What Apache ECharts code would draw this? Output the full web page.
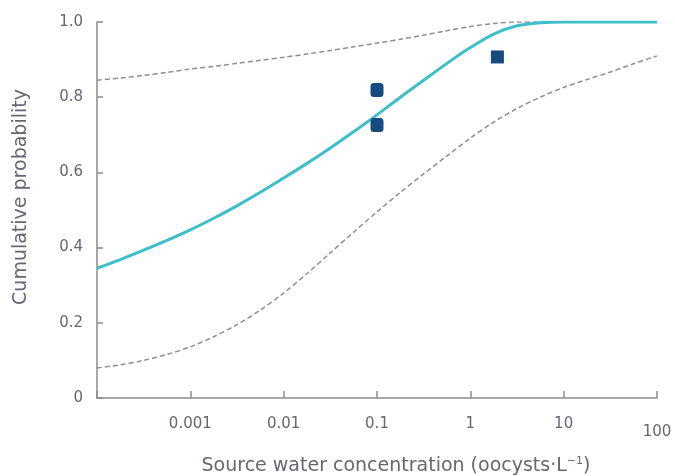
<!DOCTYPE html>
<html>
<head>
<meta charset="utf-8">
<script src="https://cdn.jsdelivr.net/npm/echarts@6/dist/echarts.min.js"></script>
<style>html,body{margin:0;padding:0;background:#fff;}#c{width:675px;height:476px;}</style>
</head>
<body>
<div id="c"></div>
<script>
// Sample positions along x (oocysts per L), quarter-decade steps
const curveX = [0.0001, 0.000178, 0.000316, 0.000562, 0.001, 0.00178, 0.00316, 0.00562, 0.01, 0.0178, 0.0316, 0.0562, 0.1, 0.178, 0.316, 0.562, 1, 1.78, 3.16, 5.62, 10, 17.8, 31.6, 56.2, 100];
// Fitted cumulative curve (teal)
const fitY = [0.345, 0.368, 0.393, 0.419, 0.447, 0.478, 0.511, 0.547, 0.585, 0.624, 0.665, 0.708, 0.753, 0.80, 0.845, 0.89, 0.932, 0.968, 0.99, 0.998, 1.0, 1.0, 1.0, 1.0, 1.0];
// Upper confidence bound (dashed)
const upperY = [0.845, 0.851, 0.858, 0.866, 0.875, 0.882, 0.89, 0.898, 0.906, 0.915, 0.924, 0.934, 0.944, 0.954, 0.965, 0.977, 0.988, 0.996, 1.0, 1.0, 1.0, 1.0, 1.0, 1.0, 1.0];
// Lower confidence bound (dashed)
const lowerY = [0.08, 0.088, 0.1, 0.116, 0.136, 0.163, 0.195, 0.234, 0.279, 0.331, 0.386, 0.441, 0.495, 0.547, 0.596, 0.644, 0.691, 0.734, 0.77, 0.80, 0.826, 0.847, 0.867, 0.889, 0.91];
// Observations
const obsRoundX = [0.1, 0.1];
const obsRoundY = [0.819, 0.726];
const obsSquareX = [1.95];
const obsSquareY = [0.907];
// Tick labels by decade exponent
const xTickLabels = {'-4': '', '-3': '0.001', '-2': '0.01', '-1': '0.1', '0': '1', '1': '10', '2': '100'};
const yTickLabels = ['0', '0.2', '0.4', '0.6', '0.8', '1.0'];

const pairs = (xs, ys) => xs.map((x, i) => [x, ys[i]]);
const textColor = '#6b6472';
const axisColor = '#8a8a8a';

const chart = echarts.init(document.getElementById('c'));
chart.setOption({
  animation: false,
  grid: {left: 97, right: 18, top: 22, bottom: 78, containLabel: false, outerBoundsMode: 'none'},
  xAxis: {
    type: 'log', logBase: 10, min: 0.0001, max: 100,
    splitLine: {show: false}, minorTick: {show: false},
    axisLine: {lineStyle: {color: axisColor, width: 1.5}},
    axisTick: {inside: true, length: 7, lineStyle: {color: axisColor, width: 1.5}},
    axisLabel: {
      color: textColor, fontFamily: 'DejaVu Sans', fontSize: 15, margin: 19,
      formatter: v => {
        const e = String(Math.round(Math.log10(v)));
        const t = xTickLabels[e] || '';
        return e === '2' ? '{low|' + t + '}' : t;
      },
      rich: {low: {color: textColor, fontFamily: 'DejaVu Sans', fontSize: 15, padding: [8, 0, 0, 0]}}
    },
    name: 'Source water concentration (oocysts·L{sup|−1})',
    nameLocation: 'middle', nameGap: 58,
    nameTextStyle: {
      color: textColor, fontFamily: 'DejaVu Sans', fontSize: 19, padding: [0, 0, 0, 38],
      rich: {sup: {color: textColor, fontFamily: 'DejaVu Sans', fontSize: 11, padding: [0, 0, 10, 0]}}
    }
  },
  yAxis: {
    type: 'value', min: 0, max: 1, interval: 0.2,
    splitLine: {show: false},
    axisLine: {show: true, lineStyle: {color: axisColor, width: 1.5}},
    axisTick: {show: true, inside: true, length: 6, lineStyle: {color: axisColor, width: 1.5}},
    axisLabel: {
      color: textColor, fontFamily: 'DejaVu Sans', fontSize: 15, margin: 14,
      formatter: v => yTickLabels[Math.round(v * 5)]
    },
    name: 'Cumulative probability',
    nameLocation: 'middle', nameGap: 66,
    nameTextStyle: {color: textColor, fontFamily: 'DejaVu Sans', fontSize: 19, padding: [0, 0, 0, 26]}
  },
  series: [
    {type: 'line', data: pairs(curveX, upperY), smooth: 0.3, showSymbol: false, z: 2,
     lineStyle: {color: '#8f8f8f', width: 1.5, type: [5, 3]}},
    {type: 'line', data: pairs(curveX, lowerY), smooth: 0.3, showSymbol: false, z: 2,
     lineStyle: {color: '#8f8f8f', width: 1.5, type: [5, 3]}},
    {type: 'line', data: pairs(curveX, fitY), smooth: 0.3, showSymbol: false, z: 3,
     lineStyle: {color: '#3dbfc9', width: 3}},
    {type: 'scatter', data: pairs(obsRoundX, obsRoundY), symbol: 'roundRect', symbolSize: [13, 14], z: 4,
     itemStyle: {color: '#154b7e', opacity: 1}},
    {type: 'scatter', data: pairs(obsSquareX, obsSquareY), symbol: 'rect', symbolSize: 13, z: 4,
     itemStyle: {color: '#154b7e', opacity: 1}}
  ]
});
</script>
</body>
</html>
